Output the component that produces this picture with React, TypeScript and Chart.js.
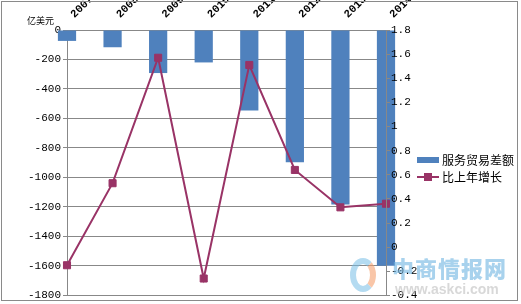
import React, { useEffect, useRef } from "react";
import { Chart, registerables } from "chart.js";

Chart.register(...registerables);

const categories = ["2007", "2008", "2009", "2010", "2011", "2012", "2013", "2014"];
const balanceValues = [-74, -117, -292, -220, -546, -897, -1184, -1599];
const growthValues = [-0.15, 0.53, 1.57, -0.26, 1.51, 0.64, 0.33, 0.36];
const balanceLabel = "服务贸易差额";
const growthLabel = "比上年增长";
const unitLabel = "亿美元";

const BAR_COLOR = "#4F81BD";
const LINE_COLOR = "#993366";
const GRID_COLOR = "#888888";
const TICK_FONT = { family: "'Liberation Mono', 'DejaVu Sans Mono', monospace", size: 11 };
const CJK = "'Noto Sans CJK SC', 'Noto Sans', sans-serif";

const decorPlugin = {
  id: "decor",
  afterDraw(chart: any) {
    const ctx = chart.ctx;
    ctx.save();
    ctx.strokeStyle = "#8a8a8a";
    ctx.lineWidth = 1;
    ctx.strokeRect(1.5, 1.5, 516, 299);
    ctx.fillStyle = "#000";
    ctx.font = `9px ${CJK}`;
    ctx.textAlign = "left";
    ctx.textBaseline = "middle";
    ctx.fillText(unitLabel, 27, 21);
    const ds = chart.data.datasets;
    const lx = 417;
    ds.forEach((d: any, i: number) => {
      const y = i === 0 ? 160 : 177;
      if (d.type === "bar") {
        ctx.fillStyle = d.backgroundColor;
        ctx.fillRect(lx, y - 3, 22, 6);
      } else {
        ctx.strokeStyle = d.borderColor;
        ctx.lineWidth = 2;
        ctx.beginPath();
        ctx.moveTo(lx, y);
        ctx.lineTo(lx + 22, y);
        ctx.stroke();
        ctx.fillStyle = d.backgroundColor;
        ctx.fillRect(lx + 7, y - 4, 8, 8);
      }
      ctx.fillStyle = "#000";
      ctx.font = `12px ${CJK}`;
      ctx.textBaseline = "middle";
      ctx.fillText(d.label, lx + 25, y);
    });
    ctx.restore();
  },
};

export default function App() {
  const ref = useRef<HTMLCanvasElement | null>(null);
  useEffect(() => {
    if (!ref.current) return;
    const chart = new Chart(ref.current, {
      data: {
        labels: categories,
        datasets: [
          {
            type: "bar",
            label: balanceLabel,
            data: balanceValues,
            backgroundColor: BAR_COLOR,
            yAxisID: "y",
            order: 1,
            clip: false as any,
            barPercentage: 0.4,
            categoryPercentage: 1,
          },
          {
            type: "line",
            label: growthLabel,
            data: growthValues,
            borderColor: LINE_COLOR,
            backgroundColor: LINE_COLOR,
            borderWidth: 2,
            pointStyle: "rect",
            pointRadius: 5,
            pointBorderWidth: 1,
            pointBackgroundColor: LINE_COLOR,
            pointBorderColor: LINE_COLOR,
            tension: 0,
            yAxisID: "y1",
            order: 0,
            clip: false as any,
          },
        ],
      } as any,
      options: {
        responsive: false,
        animation: false,
        events: [],
        layout: { padding: { left: 0, right: 0, top: 0, bottom: 6 } },
        plugins: { legend: { display: false }, tooltip: { enabled: false } },
        scales: {
          x: {
            position: "top",
            offset: false,
            grid: { display: false },
            border: { display: false },
            ticks: {
              autoSkip: false,
              minRotation: 45,
              maxRotation: 45,
              padding: 1,
              labelOffset: 15,
              color: "#000",
              font: { family: "'Liberation Mono', 'DejaVu Sans Mono', monospace", size: 11, weight: "bold" },
            },
            afterFit: (s: any) => {
              s.height = 30;
            },
          },
          y: {
            position: "left",
            min: -1800,
            max: 0,
            grid: { color: GRID_COLOR, tickLength: 4, drawTicks: true },
            border: { display: true, color: GRID_COLOR },
            ticks: {
              stepSize: 200,
              autoSkip: false,
              padding: 2,
              color: "#000",
              font: TICK_FONT,
              callback: (v: any) => String(v),
            },
            afterFit: (s: any) => {
              s.width = 67;
            },
          },
          y1: {
            position: "right",
            min: -0.4,
            max: 1.8,
            grid: { drawOnChartArea: false, color: GRID_COLOR, tickLength: 4, z: 1 },
            border: { display: true, color: GRID_COLOR, z: 1 },
            ticks: {
              stepSize: 0.2,
              autoSkip: false,
              padding: 1,
              z: 1,
              color: "#000",
              font: TICK_FONT,
              callback: (v: any) => String(Math.round(Number(v) * 10) / 10),
            },
            afterFit: (s: any) => {
              s.width = 135;
            },
          },
        },
      } as any,
      plugins: [decorPlugin],
    });
    return () => chart.destroy();
  }, []);

  return (
    <div style={{ position: "absolute", left: 0, top: 0, width: 521, height: 304, background: "#fff", overflow: "hidden" }}>
      <canvas ref={ref} width={521} height={304} style={{ display: "block" }} />
      <div
        style={{
          position: "absolute",
          left: 350,
          top: 258,
          width: 26,
          height: 34,
          borderRadius: "50%",
          border: "6px solid rgba(120,190,230,0.55)",
          borderRightColor: "rgba(245,160,110,0.6)",
          boxSizing: "border-box",
          pointerEvents: "none",
        }}
      />
      <div
        style={{
          position: "absolute",
          left: 392,
          top: 254,
          fontFamily: CJK,
          fontWeight: 900,
          fontSize: 22,
          lineHeight: "26px",
          letterSpacing: 1,
          color: "rgba(110,180,225,0.6)",
          pointerEvents: "none",
          whiteSpace: "nowrap",
        }}
      >
        中商情报网
      </div>
      <div
        style={{
          position: "absolute",
          left: 395,
          top: 281,
          fontFamily: "Arial, 'Liberation Sans', sans-serif",
          fontWeight: 700,
          fontSize: 14,
          lineHeight: "16px",
          color: "rgba(190,190,190,0.6)",
          pointerEvents: "none",
          whiteSpace: "nowrap",
        }}
      >
        www.askci.com
      </div>
    </div>
  );
}
